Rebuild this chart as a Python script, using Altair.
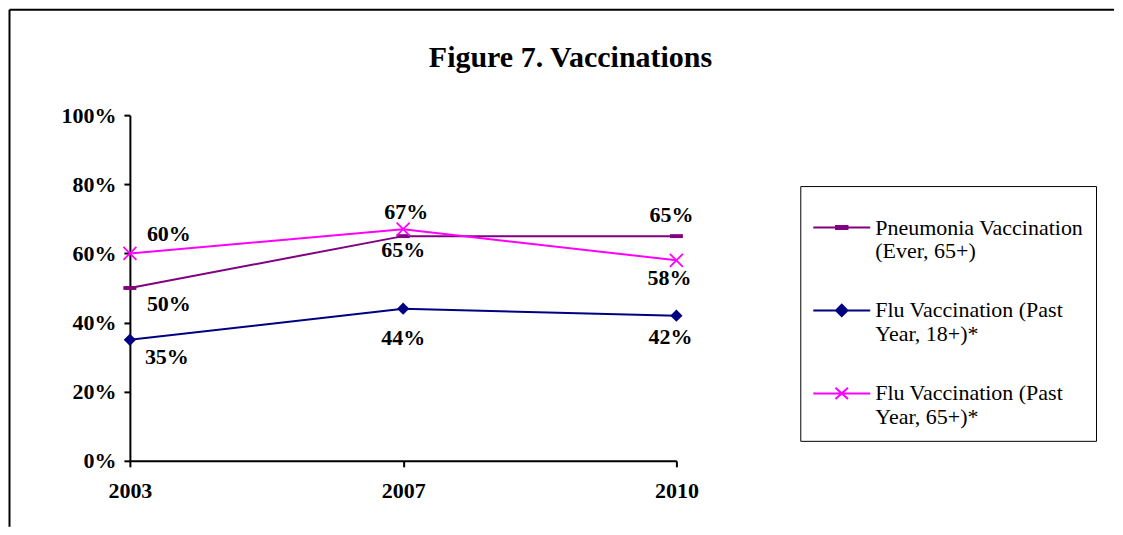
import json
import altair as alt
import pandas as pd

# ---------------- data ----------------
years = ["2003", "2007", "2010"]
series_names = [
    "Pneumonia Vaccination (Ever, 65+)",
    "Flu Vaccination (Past Year, 18+)*",
    "Flu Vaccination (Past Year, 65+)*",
]
pneumonia = [50, 65, 65]
flu_18 = [35, 44, 42]
flu_65 = [60, 67, 58]
y_ticks = [0, 20, 40, 60, 80, 100]
legend_lines = [
    ["Pneumonia Vaccination", "(Ever, 65+)"],
    ["Flu Vaccination (Past", "Year, 18+)*"],
    ["Flu Vaccination (Past", "Year, 65+)*"],
]
title_text = "Figure 7. Vaccinations"

# ---------------- styles ----------------
colors = ["#800080", "#000080", "#FF00FF"]
FONT = "Liberation Serif"
label_offsets = [
    [(39, 16), (0, 14), (-5, -21)],
    [(37, 17), (0, 29), (-6, 21)],
    [(39, -19), (3, -17), (-7, 18)],
]
marker_styles = [
    dict(shape="M-1,-0.3H1V0.3H-1Z", filled=True, size=169),
    dict(shape="diamond", filled=True, size=150),
    dict(shape="M-1,-1L1,1M-1,1L1,-1", filled=False, size=169, strokeWidth=1.8),
]
ly = 0.0
legend_paths = [
    f"M-1,{ly}H1M-0.2,{ly-0.05:.2f}H0.2V{ly+0.05:.2f}H-0.2Z",
    f"M-1,{ly}H1M-0.2,{ly}L0,{ly-0.2:.2f}L0.2,{ly}L0,{ly+0.2:.2f}Z",
    f"M-1,{ly}H1M-0.22,{ly-0.2:.2f}L0.22,{ly+0.2:.2f}M-0.22,{ly+0.2:.2f}L0.22,{ly-0.2:.2f}",
]

rows = []
for name, vals in zip(series_names, [pneumonia, flu_18, flu_65]):
    for yr, v in zip(years, vals):
        rows.append({"series": name, "year": yr, "value": v})
df = pd.DataFrame(rows)

label_expr = ""
for name, lines in zip(series_names, legend_lines):
    label_expr += f"datum.label == {json.dumps(name)} ? {json.dumps(lines)} : "
label_expr += "datum.label"

base = alt.Chart(df).encode(
    x=alt.X("year:N", sort=years, scale=alt.Scale(type="point", padding=0),
            axis=alt.Axis(title=None, labelAngle=0, labelPadding=14)),
    y=alt.Y("value:Q", scale=alt.Scale(domain=[0, 100], nice=False),
            axis=alt.Axis(title=None, values=y_ticks, labelExpr="datum.value + '%'", labelPadding=8)),
)

line_layers, point_layers, label_layers = [], [], []
for si, s in enumerate(series_names):
    sub = base.transform_filter(alt.datum.series == s)
    line_layers.append(sub.mark_line(color=colors[si], strokeWidth=2))
    point_layers.append(sub.mark_point(color=colors[si], opacity=1, **marker_styles[si]))
    for yi, yr in enumerate(years):
        dx, dy = label_offsets[si][yi]
        label_layers.append(
            sub.transform_filter(alt.datum.year == yr)
            .transform_calculate(lbl="datum.value + '%'")
            .mark_text(dx=dx, dy=dy, font=FONT, fontSize=22, fontWeight="bold",
                       baseline="middle", align="center", color="black")
            .encode(text="lbl:N")
        )

leg = alt.Legend(
    title=None, orient="none", legendX=671, legendY=71,
    symbolSize=3249, symbolStrokeWidth=2, symbolOpacity=1,
    labelFont=FONT, labelFontSize=22, labelColor="black", labelLimit=600, labelOffset=4,
    labelBaseline="middle", labelExpr=label_expr,
    padding=12, rowPadding=18, strokeColor="black", fillColor="white",
)
legend_layer = base.mark_point(filled=True, opacity=1, size=0).encode(
    stroke=alt.Stroke("series:N", scale=alt.Scale(domain=series_names, range=colors), legend=leg),
    fill=alt.Fill("series:N", scale=alt.Scale(domain=series_names, range=colors), legend=leg),
    shape=alt.Shape("series:N", scale=alt.Scale(domain=series_names, range=legend_paths), legend=leg),
)

# outer frame: only its left and top edges fall inside the picture
frame_df = pd.DataFrame({"f": [0]})
frame_left = alt.Chart(frame_df).mark_rule(color="black", strokeWidth=2).encode(
    x=alt.value(-120.5), y=alt.value(-105.5), y2=alt.value(412))
frame_top = alt.Chart(frame_df).mark_rule(color="black", strokeWidth=2).encode(
    x=alt.value(-120.5), x2=alt.value(985), y=alt.value(-105.5))

chart = alt.layer(
    frame_left, frame_top, *line_layers, *point_layers, *label_layers, legend_layer
).properties(
    width=547, height=346,
    title=alt.Title(title_text, font=FONT, fontSize=30, fontWeight="bold", color="black",
                    anchor="middle", frame="group", dx=167.5, offset=0, dy=88, baseline="alphabetic"),
    padding=0,
    background="white",
).configure_view(stroke=None).configure_axis(
    grid=False, domainColor="black", domainWidth=2, tickColor="black", tickWidth=2, tickSize=6,
    labelColor="black", labelFont=FONT, labelFontSize=22, labelFontWeight="bold",
)

chart.save("out.html", embed_options={"renderer": "svg", "actions": False})
